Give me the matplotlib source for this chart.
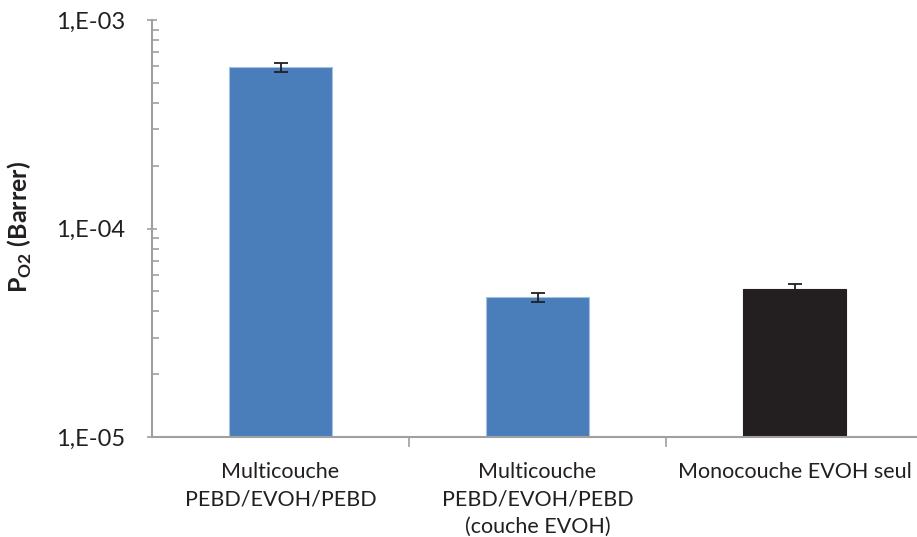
import matplotlib
matplotlib.use('Agg')
import matplotlib.pyplot as plt
from matplotlib.ticker import LogLocator, NullFormatter, FixedLocator

# Données
categories = ['Multicouche\nPEBD/EVOH/PEBD',
              'Multicouche\nPEBD/EVOH/PEBD\n(couche EVOH)',
              'Monocouche EVOH seul']
p_o2 = [5.93e-4, 4.68e-5, 5.14e-5]
erreurs = [3.0e-5, 2.5e-6, 2.5e-6]
couleurs = ['#4a7ebb', '#4a7ebb', '#231f20']
yticks = [1e-5, 1e-4, 1e-3]
ytick_labels = ['1,E-05', '1,E-04', '1,E-03']

plt.rcParams['font.family'] = ['Lato', 'DejaVu Sans']
plt.rcParams['mathtext.fontset'] = 'custom'
plt.rcParams['mathtext.rm'] = 'Lato'
plt.rcParams['mathtext.bf'] = 'Lato:bold'

fig = plt.figure(figsize=(9.17, 5.37), dpi=100)
ax = fig.add_axes([152 / 917, 1 - 437 / 537, 771 / 917, 417 / 537])

x = range(len(categories))
ax.bar(x, p_o2, width=0.40, color=couleurs, edgecolor=['#a8c0e0', '#a8c0e0', '#231f20'],
       linewidth=0.8, zorder=2)
ax.errorbar(x, p_o2, yerr=erreurs, fmt='none', ecolor='#231f20', elinewidth=1.3,
            capsize=5, capthick=1.3, zorder=3)

ax.set_yscale('log')
ax.set_ylim(1e-5, 1e-3)
ax.set_xlim(-0.5, 2.5)
ax.set_yticks(yticks)
ax.set_yticklabels(ytick_labels)
ax.yaxis.set_minor_locator(LogLocator(base=10, subs=range(2, 10)))
ax.yaxis.set_minor_formatter(NullFormatter())

ax.set_xticks(list(x))
ax.set_xticklabels(categories, fontsize=15.5, color='#231f20', linespacing=1.45)
ax.tick_params(axis='x', length=0, pad=18)
ax.xaxis.set_minor_locator(FixedLocator([0.5, 1.5]))
ax.tick_params(axis='x', which='minor', length=7, width=1.2, color='#a0a0a0', direction='out')

ax.tick_params(axis='y', which='major', length=7, width=1.2, color='#a0a0a0', direction='inout',
               labelsize=17, labelcolor='#231f20', pad=16)
ax.tick_params(axis='y', which='minor', length=5, width=1.2, color='#a0a0a0', direction='in')

for s in ['top', 'right']:
    ax.spines[s].set_visible(False)
for s in ['left', 'bottom']:
    ax.spines[s].set_color('#a0a0a0')
    ax.spines[s].set_linewidth(1.5)

# titre de l'axe Y placé à la main (sinon il sort de la figure)
fig.text(20 / 917, 1 - 227 / 537, r'$\mathbf{P}_{\mathbf{O2}}$ (Barrer)', fontsize=18,
         fontweight='bold', color='#231f20', rotation=90, ha='center', va='center')

plt.savefig('out.png', dpi=100)
